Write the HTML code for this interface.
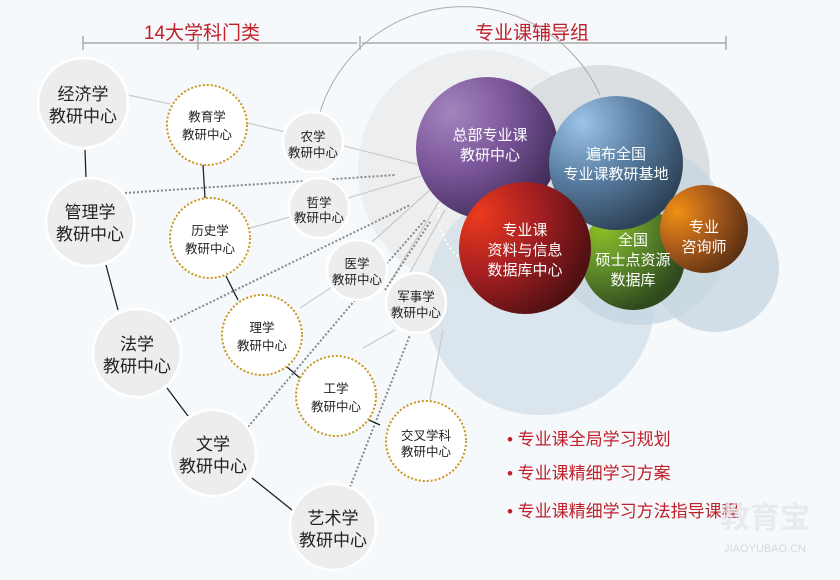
<!DOCTYPE html><html><head><meta charset="utf-8"><style>body{margin:0;background:#f5f9fc}svg{display:block}text{font-family:"Liberation Sans","Noto Sans CJK SC",sans-serif;text-anchor:middle}text.l{text-anchor:start}</style></head><body>
<svg width="840" height="580" viewBox="0 0 840 580">
<defs>
<radialGradient id="gp" cx="25%" cy="25%" r="85%"><stop offset="0" stop-color="#a584bd"/><stop offset=".5" stop-color="#7a5599"/><stop offset="1" stop-color="#3e2a55"/></radialGradient>
<radialGradient id="gb" cx="25%" cy="20%" r="85%"><stop offset="0" stop-color="#9cc4e8"/><stop offset=".5" stop-color="#5a7fa3"/><stop offset="1" stop-color="#2e4358"/></radialGradient>
<radialGradient id="gr" cx="15%" cy="25%" r="90%"><stop offset="0" stop-color="#ec3a1c"/><stop offset=".5" stop-color="#a51f22"/><stop offset="1" stop-color="#4e1012"/></radialGradient>
<radialGradient id="gg" cx="20%" cy="20%" r="85%"><stop offset="0" stop-color="#8dc025"/><stop offset=".5" stop-color="#5d8a2a"/><stop offset="1" stop-color="#2f4a1c"/></radialGradient>
<radialGradient id="go" cx="20%" cy="30%" r="85%"><stop offset="0" stop-color="#f08f14"/><stop offset=".5" stop-color="#a85a1c"/><stop offset="1" stop-color="#5a3012"/></radialGradient>
</defs>
<circle cx="478" cy="170" r="120" fill="#eceeef"/>
<circle cx="600" cy="175" r="110" fill="#d9dcdf" opacity=".9"/>
<circle cx="540" cy="300" r="115" fill="#d4e0e8" opacity=".8"/>
<circle cx="640" cy="235" r="90" fill="#c4d4df" opacity=".7"/>
<circle cx="715" cy="268" r="64" fill="#c9d7e1" opacity=".8"/>
<path d="M320 112 A150 150 0 0 1 600 95" fill="none" stroke="#aaa" stroke-width="1"/>
<path d="M440 200 A58 58 0 0 0 460 258" fill="none" stroke="#fff" stroke-width="2" stroke-dasharray="2 3"/>
<g stroke="#aaa" stroke-width="1.5" fill="#aaa">
<line x1="83" y1="43" x2="357" y2="43"/><line x1="83" y1="36" x2="83" y2="50"/><line x1="198" y1="36" x2="198" y2="50"/><line x1="360" y1="36" x2="360" y2="50"/>
<line x1="362" y1="43" x2="726" y2="43"/><line x1="726" y1="36" x2="726" y2="50"/>
</g>
<text x="202" y="39" font-size="19" fill="#c0202a">14大学科门类</text>
<text x="532" y="39" font-size="19" fill="#c0202a">专业课辅导组</text>
<g stroke="#ccc" stroke-width="1.3" fill="none">
<line x1="128" y1="95" x2="170" y2="104"/><line x1="248" y1="123" x2="285" y2="132"/><line x1="344" y1="146" x2="420" y2="165"/>
<line x1="250" y1="228" x2="290" y2="217"/><line x1="348" y1="198" x2="425" y2="175"/>
<line x1="300" y1="308" x2="335" y2="285"/><line x1="372" y1="242" x2="430" y2="190"/>
<line x1="390" y1="282" x2="440" y2="200"/><line x1="363" y1="348" x2="395" y2="330"/>
<line x1="403" y1="285" x2="445" y2="210"/><line x1="430" y1="400" x2="443" y2="330"/>
</g>
<g stroke="#888" stroke-width="2" stroke-dasharray="2 2" fill="none">
<line x1="125" y1="193" x2="395" y2="175"/><line x1="170" y1="322" x2="410" y2="205"/>
<line x1="248" y1="427" x2="355" y2="300"/><line x1="355" y1="300" x2="425" y2="220"/>
<line x1="350" y1="487" x2="410" y2="335"/><line x1="385" y1="290" x2="430" y2="222"/>
</g>
<g stroke="#222" stroke-width="1.3">
<line x1="85" y1="150" x2="86" y2="178"/><line x1="106" y1="265" x2="118" y2="310"/><line x1="167" y1="388" x2="188" y2="416"/><line x1="252" y1="478" x2="292" y2="510"/>
<line x1="203" y1="165" x2="205" y2="198"/><line x1="226" y1="276" x2="238" y2="300"/><line x1="287" y1="367" x2="300" y2="378"/><line x1="369" y1="420" x2="380" y2="425"/>
</g>
<g fill="#eeeded" stroke="#fff" stroke-width="2.5">
<circle cx="83" cy="103" r="45"/><circle cx="90" cy="222" r="44"/><circle cx="137" cy="353" r="44"/><circle cx="213" cy="453" r="43"/><circle cx="333" cy="527" r="43"/>
<circle cx="313" cy="142" r="30"/><circle cx="319" cy="208" r="30"/><circle cx="357" cy="270" r="30"/><circle cx="416" cy="303" r="30"/>
</g>
<g fill="#fff" stroke="#c9961e" stroke-width="2" stroke-dasharray="2 2">
<circle cx="207" cy="125" r="40"/><circle cx="210" cy="238" r="40"/><circle cx="262" cy="335" r="40"/><circle cx="336" cy="396" r="40"/><circle cx="426" cy="441" r="40"/>
</g>
<g fill="#222" font-size="17">
<text x="83" y="100">经济学</text><text x="83" y="122">教研中心</text>
<text x="90" y="218">管理学</text><text x="90" y="240">教研中心</text>
<text x="137" y="350">法学</text><text x="137" y="372">教研中心</text>
<text x="213" y="450">文学</text><text x="213" y="472">教研中心</text>
<text x="333" y="524">艺术学</text><text x="333" y="546">教研中心</text>
</g>
<g fill="#222" font-size="12.5">
<text x="207" y="121">教育学</text><text x="207" y="139">教研中心</text>
<text x="210" y="235">历史学</text><text x="210" y="253">教研中心</text>
<text x="262" y="332">理学</text><text x="262" y="350">教研中心</text>
<text x="336" y="393">工学</text><text x="336" y="411">教研中心</text>
<text x="426" y="440">交叉学科</text><text x="426" y="456">教研中心</text>
<text x="313" y="141">农学</text><text x="313" y="157">教研中心</text>
<text x="319" y="207">哲学</text><text x="319" y="222">教研中心</text>
<text x="357" y="268">医学</text><text x="357" y="284">教研中心</text>
<text x="416" y="301">军事学</text><text x="416" y="317">教研中心</text>
</g>
<circle cx="487" cy="148" r="71" fill="url(#gp)"/>
<circle cx="633" cy="258" r="52" fill="url(#gg)"/>
<circle cx="616" cy="163" r="67" fill="url(#gb)"/>
<circle cx="525" cy="248" r="66" fill="url(#gr)"/>
<circle cx="704" cy="229" r="44" fill="url(#go)"/>
<g fill="#fff" font-size="15">
<text x="490" y="140">总部专业课</text><text x="490" y="160">教研中心</text>
<text x="616" y="159">遍布全国</text><text x="616" y="179">专业课教研基地</text>
<text x="525" y="235">专业课</text><text x="525" y="255">资料与信息</text><text x="525" y="275">数据库中心</text>
<text x="633" y="245">全国</text><text x="633" y="265">硕士点资源</text><text x="633" y="285">数据库</text>
<text x="704" y="232">专业</text><text x="704" y="252">咨询师</text>
</g>
<g fill="#c0202a" font-size="17">
<text class="l" x="507" y="445">• 专业课全局学习规划</text>
<text class="l" x="507" y="479">• 专业课精细学习方案</text>
<text class="l" x="507" y="517">• 专业课精细学习方法指导课程</text>
</g>
<text x="765" y="528" font-size="30" fill="#e2e6ea" font-weight="bold" opacity=".7">教育宝</text>
<text x="765" y="552" font-size="11" fill="#d5d9dd">JIAOYUBAO.CN</text>
</svg></body></html>
